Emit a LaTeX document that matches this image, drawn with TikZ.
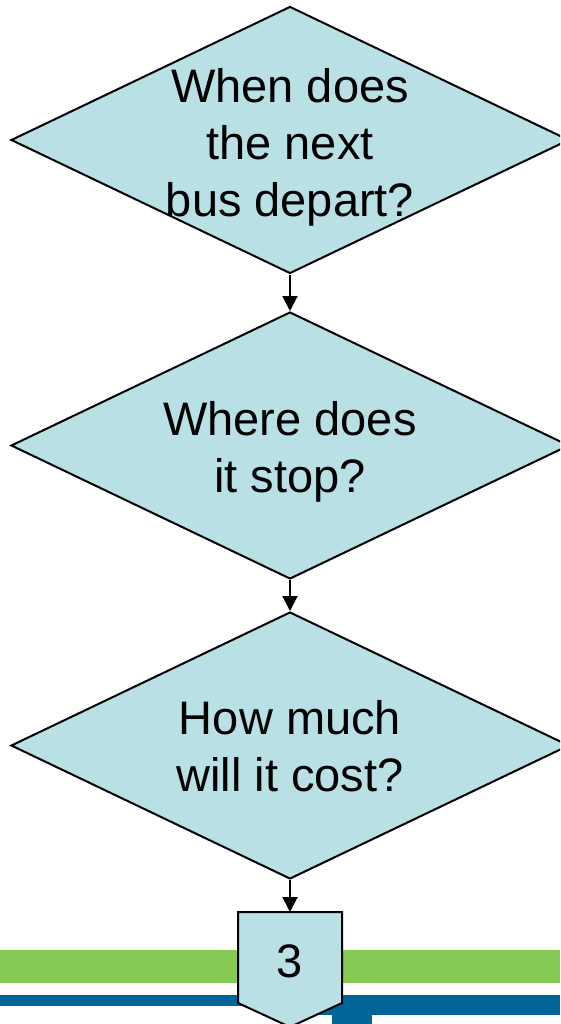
\documentclass[tikz,border=0pt]{standalone}
\usepackage{fontspec}
\setmainfont{Liberation Sans}
\usetikzlibrary{shapes.geometric,arrows.meta}
\definecolor{dfill}{HTML}{B9E0E4}
\definecolor{bandgreen}{HTML}{86C953}
\definecolor{bandblue}{HTML}{006699}
\begin{document}
\begin{tikzpicture}[x=1pt,y=-1pt,
  decision/.style={shape=diamond, draw=black, line width=2pt, fill=dfill,
    minimum width=558pt, minimum height=267pt, inner sep=0pt},
  qtext/.style={align=center, font=\fontsize{47}{57}\selectfont, inner sep=0pt},
  flow/.style={-{Triangle[length=15pt,width=15pt]}, line width=2pt},
  connector/.style={draw=black, line width=2pt, fill=dfill, line join=miter}]
\useasboundingbox (0,0) rectangle (560,1024);
\clip (0,0) rectangle (560,1024);
% bands
\fill[bandgreen] (0,950) rectangle (560,983);
\fill[bandblue] (0,995) rectangle (560,1006);
\fill[bandblue] (300,1006) rectangle (560,1015);
\fill[bandblue] (332,1015) rectangle (372,1024);
% decisions
\node[decision] (d1) at (290,140) {};
\node[qtext] (t1) at (290,147) {When does\\the next\\bus depart?};
\node[decision] (d2) at (290,445.5) {};
\node[qtext] (t2) at (290,451.5) {Where does\\it stop?};
\node[decision] (d3) at (290,745.5) {};
\node[qtext] (t3) at (290,746.5) {How much\\will it cost?};
% off-page connector
\draw[connector] (238,912) -- (342,912) -- (342,1003) -- (290,1027) -- (238,1003) -- cycle;
\coordinate (c3) at (290,912);
\node[qtext] (n3) at (290,961) {3};
% arrows
\draw[flow] (d1.south) -- (d2.north);
\draw[flow] (d2.south) -- (d3.north);
\draw[flow] (d3.south) -- (c3);
\end{tikzpicture}
\end{document}
